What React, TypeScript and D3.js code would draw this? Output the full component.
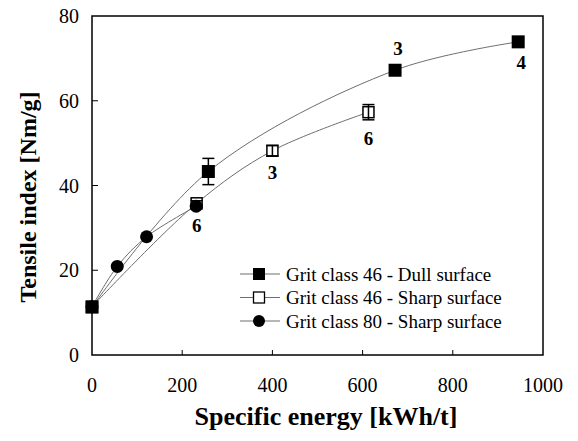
import React from "react";
import * as d3 from "d3";

// specific energy [kWh/t] and tensile index [Nm/g] per series
const dullEnergy = [0, 258, 672, 945];
const dullTensile = [11.3, 43.3, 67.2, 73.9];
const dullError = [0, 3.1, 0.6, 0];
const dullLabels = ["", "", "3", "4"];

const sharp46Energy = [0, 232, 400, 613];
const sharp46Tensile = [11.4, 35.8, 48.2, 57.3];
const sharp46Error = [0, 0.6, 1.2, 1.8];
const sharp46Labels = ["", "6", "3", "6"];

const sharp80Energy = [0, 56, 121, 231];
const sharp80Tensile = [11.4, 20.9, 27.9, 35.1];

const xTicks = [0, 200, 400, 600, 800, 1000];
const yTicks = [0, 20, 40, 60, 80];
const legendLabels = [
  "Grit class 46 - Dull surface",
  "Grit class 46 - Sharp surface",
  "Grit class 80 - Sharp surface",
];

const W = 578;
const H = 441;
const margin = { top: 16, right: 35, bottom: 86, left: 92 };
const font = "Liberation Serif";

const App = () => {
  const x = d3.scaleLinear().domain([0, 1000]).range([margin.left, W - margin.right]);
  const y = d3.scaleLinear().domain([0, 80]).range([H - margin.bottom, margin.top]);

  const line = d3
    .line<[number, number]>()
    .x((d) => x(d[0]))
    .y((d) => y(d[1]))
    .curve(d3.curveCatmullRom.alpha(0.5));

  const zip = (a: number[], b: number[]) => a.map((v, i) => [v, b[i]] as [number, number]);
  const dull = zip(dullEnergy, dullTensile);
  const sharp46 = zip(sharp46Energy, sharp46Tensile);
  const sharp80 = zip(sharp80Energy, sharp80Tensile);

  const lineColor = "#6e6e6e";
  const sq = 13;
  const osq = 11;
  const cr = 6.5;

  const errorBar = (px: number, val: number, err: number, key: string) => {
    if (!err) return null;
    const cx = x(px);
    return (
      <g key={key} stroke="#000" strokeWidth={1.5}>
        <line x1={cx} x2={cx} y1={y(val + err)} y2={y(val - err)} />
        <line x1={cx - 6} x2={cx + 6} y1={y(val + err)} y2={y(val + err)} />
        <line x1={cx - 6} x2={cx + 6} y1={y(val - err)} y2={y(val - err)} />
      </g>
    );
  };

  const plotBottom = H - margin.bottom;

  return (
    <svg
      width={W}
      height={H}
      style={{ position: "absolute", left: 0, top: 0, background: "#fff" }}
      fontFamily={font}
    >
      {/* lines */}
      <path d={line(dull) ?? ""} fill="none" stroke={lineColor} strokeWidth={1} />
      <path d={line(sharp46) ?? ""} fill="none" stroke={lineColor} strokeWidth={1} />
      <path d={line(sharp80) ?? ""} fill="none" stroke={lineColor} strokeWidth={1} />

      {/* sharp 46 open squares */}
      {sharp46.map((d, i) => (
        <rect
          key={"s46" + i}
          x={x(d[0]) - osq / 2}
          y={y(d[1]) - osq / 2}
          width={osq}
          height={osq}
          fill="#fff"
          stroke="#000"
          strokeWidth={1.5}
        />
      ))}
      {sharp46.map((d, i) => errorBar(d[0], d[1], sharp46Error[i], "e46" + i))}

      {/* grit 80 circles */}
      {sharp80.map((d, i) => (
        <circle key={"s80" + i} cx={x(d[0])} cy={y(d[1])} r={cr} fill="#000" />
      ))}

      {/* dull filled squares */}
      {dull.map((d, i) => errorBar(d[0], d[1], dullError[i], "ed" + i))}
      {dull.map((d, i) => (
        <rect
          key={"d" + i}
          x={x(d[0]) - sq / 2}
          y={y(d[1]) - sq / 2}
          width={sq}
          height={sq}
          fill="#000"
        />
      ))}

      {/* point annotations */}
      <g fontFamily={font} fontWeight="bold" fontSize={19} textAnchor="middle" dominantBaseline="central">
        {dull.map((d, i) =>
          dullLabels[i] ? (
            <text key={"ld" + i} x={x(d[0]) + 3} y={y(d[1]) + (i === 2 ? -22 : 21)}>
              {dullLabels[i]}
            </text>
          ) : null
        )}
        {sharp46.map((d, i) =>
          sharp46Labels[i] ? (
            <text key={"ls" + i} x={x(d[0])} y={y(d[1]) + (i === 3 ? 26 : 22)}>
              {sharp46Labels[i]}
            </text>
          ) : null
        )}
      </g>

      {/* frame */}
      <rect
        x={margin.left}
        y={margin.top}
        width={W - margin.left - margin.right}
        height={plotBottom - margin.top}
        fill="none"
        stroke="#000"
        strokeWidth={1.5}
      />

      {/* x axis */}
      {xTicks.map((t) => (
        <g key={"xt" + t}>
          {t > 0 && t < 1000 ? (
            <line x1={x(t)} x2={x(t)} y1={plotBottom} y2={plotBottom - 5} stroke="#000" strokeWidth={1} />
          ) : null}
          <text x={x(t)} y={plotBottom + 37} textAnchor="middle" fontSize={20} fontFamily={font}>
            {t}
          </text>
        </g>
      ))}
      {/* y axis */}
      {yTicks.map((t) => (
        <g key={"yt" + t}>
          {t > 0 && t < 80 ? (
            <line x1={margin.left} x2={margin.left + 6} y1={y(t)} y2={y(t)} stroke="#000" strokeWidth={1} />
          ) : null}
          <text
            x={margin.left - 13}
            y={y(t) + 7}
            textAnchor="end"
            fontSize={20}
            fontFamily={font}
          >
            {t}
          </text>
        </g>
      ))}

      <text
        x={326}
        y={H - 16}
        textAnchor="middle"
        fontSize={26}
        fontWeight="bold"
        fontFamily={font}
      >
        Specific energy [kWh/t]
      </text>
      <text
        transform={`translate(36,197) rotate(-90)`}
        textAnchor="middle"
        fontSize={24}
        fontWeight="bold"
        fontFamily={font}
      >
        Tensile index [Nm/g]
      </text>

      {/* legend */}
      <g>
        {legendLabels.map((label, i) => {
          const ly = 274 + i * 23.5;
          return (
            <g key={"lg" + i}>
              <line x1={240} x2={280} y1={ly} y2={ly} stroke={lineColor} strokeWidth={1} />
              {i === 0 ? <rect x={259 - 6} y={ly - 6} width={12} height={12} fill="#000" /> : null}
              {i === 1 ? (
                <rect x={259 - 5.5} y={ly - 5.5} width={11} height={11} fill="#fff" stroke="#000" strokeWidth={1.3} />
              ) : null}
              {i === 2 ? <circle cx={259} cy={ly} r={6} fill="#000" /> : null}
              <text x={286} y={ly + 6.5} fontSize={19} fontFamily={font}>
                {label}
              </text>
            </g>
          );
        })}
      </g>
    </svg>
  );
};

export default App;
